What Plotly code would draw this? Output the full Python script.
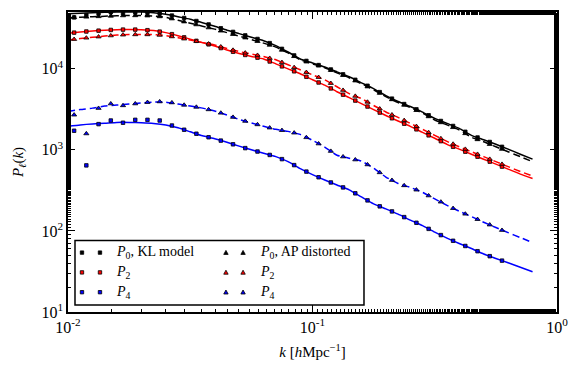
import plotly.graph_objects as go

# ---------------- data ----------------
# model curves: k grid (log10 k from -2.0 to -0.1, step 0.05)
k_line_exp = [-2.00, -1.95, -1.90, -1.85, -1.80, -1.75, -1.70, -1.65, -1.60, -1.55,
              -1.50, -1.45, -1.40, -1.35, -1.30, -1.25, -1.20, -1.15, -1.10, -1.05,
              -1.00, -0.95, -0.90, -0.85, -0.80, -0.75, -0.70, -0.65, -0.60, -0.55,
              -0.50, -0.45, -0.40, -0.35, -0.30, -0.25, -0.20, -0.15, -0.10]
k_line = [10 ** e for e in k_line_exp]

P0_kl_line = [47600, 48300, 49000, 49700, 50000, 50200, 50000, 49000, 47000, 43800,
              40800, 37000, 33500, 29900, 27100, 24500, 22200, 19300, 16100, 13200,
              11800, 10500, 9160, 7960, 6710, 5680, 4660, 3940, 3420, 2920,
              2440, 2120, 1840, 1510, 1330, 1170, 1020, 883, 767]
P0_ap_line = [42600, 43200, 43800, 44400, 45100, 45300, 45300, 44700, 43200, 39600,
              36500, 33500, 30800, 27900, 25300, 22900, 20700, 18500, 15700, 12900,
              11500, 10300, 8910, 7740, 6530, 5520, 4530, 3830, 3320, 2840,
              2330, 2030, 1760, 1430, 1260, 1090, 948, 824, 715]
P2_kl_line = [27500, 28400, 29200, 29900, 30300, 30500, 30300, 29600, 27900, 25600,
              23200, 21000, 19100, 17000, 15400, 14200, 13200, 11500, 9980, 8670,
              7310, 6270, 5210, 4410, 3720, 3140, 2650, 2270, 1950, 1640,
              1390, 1170, 1020, 883, 767, 667, 579, 502, 443]
P2_ap_line = [22600, 23600, 24400, 25300, 26000, 26400, 26500, 26400, 25600, 24200,
              22600, 21000, 19600, 17800, 16300, 15200, 14200, 12900, 11200, 9710,
              8420, 7310, 6000, 4930, 4290, 3520, 2930, 2510, 2120, 1790,
              1510, 1270, 1090, 948, 824, 715, 621, 540, 475]
P4_kl_line = [1950, 2030, 2090, 2130, 2180, 2180, 2160, 2120, 2030, 1870,
              1670, 1490, 1370, 1240, 1110, 1000, 908, 824, 715, 587,
              495, 425, 369, 321, 263, 216, 187, 161, 136, 116,
              96.6, 81.6, 70.0, 60.7, 52.0, 45.8, 40.4, 35.6, 31.3]
P4_ap_line = [2970, 3140, 3270, 3470, 3570, 3670, 3790, 3880, 3880, 3670,
              3470, 3270, 3010, 2690, 2370, 2150, 1950, 1790, 1690, 1550,
              1310, 1080, 859, 789, 725, 596, 462, 385, 344, 299,
              248, 207, 175, 150, 128, 110, 95.3, 82.8, 71.9]

# measured points: log10 k from -1.975 to -0.225, step 0.05
k_pts_exp = [-1.975, -1.925, -1.875, -1.825, -1.775, -1.725, -1.675, -1.625, -1.575,
             -1.525, -1.475, -1.425, -1.375, -1.325, -1.275, -1.225, -1.175, -1.125,
             -1.075, -1.025, -0.975, -0.925, -0.875, -0.825, -0.775, -0.725, -0.675,
             -0.625, -0.575, -0.525, -0.475, -0.425, -0.375, -0.325, -0.275, -0.225]
k_pts = [10 ** e for e in k_pts_exp]

P0_kl_pts = [43000, 46000, 48000, 49800, 48500, 49500, 49000, 48000, 45300, 42300,
             38800, 35200, 31600, 28500, 25800, 23300, 20700, 17600, 14600, 12500,
             11100, 9800, 8540, 7310, 6170, 5150, 4280, 3670, 3160, 2670,
             2270, 1970, 1670, 1420, 1250, 1090]
P0_ap_pts = [42900, 43500, 44100, 44700, 45200, 45300, 45000, 44000, 41400, 38000,
             35000, 32100, 29300, 26600, 24100, 21800, 19600, 17000, 14200, 12200,
             10900, 9580, 8300, 7110, 6000, 5000, 4170, 3570, 3070, 2570,
             2170, 1890, 1590, 1340, 1170, 1020]
P2_kl_pts = [27900, 28800, 29500, 30100, 30400, 30400, 29900, 28700, 26700, 24400,
             22100, 20000, 18000, 16200, 14800, 13700, 12300, 10700, 9300, 7960,
             6770, 5720, 4790, 4050, 3420, 2880, 2450, 2100, 1790, 1510,
             1280, 1090, 949, 823, 715, 621]
P2_ap_pts = [23100, 24000, 24800, 25600, 26200, 26400, 26400, 26000, 24900, 23400,
             21800, 20300, 18700, 17000, 15700, 14700, 13500, 12000, 10400, 9040,
             7850, 6620, 5440, 4600, 3890, 3210, 2710, 2310, 1950, 1640,
             1380, 1180, 1020, 884, 768, 666]
P4_kl_pts = [1720, 643, 2075, 2300, 2160, 2345, 2345, 2300, 1995, 1770,
             1580, 1430, 1300, 1170, 1050, 953, 865, 768, 648, 539,
             459, 396, 344, 291, 238, 201, 174, 148, 126, 106,
             88.8, 75.6, 65.2, 56.2, 48.8, 43.0]
P4_ap_pts = [2700, 1585, 3260, 3710, 3520, 3710, 3860, 3930, 3820, 3570,
             3370, 3140, 2850, 2530, 2260, 2050, 1870, 1740, 1620, 1420,
             1190, 963, 823, 756, 657, 525, 422, 363, 321, 272,
             228, 190, 162, 139, 119, 102]

colors = {"P0": "#000000", "P2": "#ff0000", "P4": "#0000ff"}

x_ticks = [0.01, 0.1, 1]
x_ticktext = ["10<sup>-2</sup>", "10<sup>-1</sup>", "10<sup>0</sup>"]
y_ticks = [10, 100, 1000, 10000]
y_ticktext = ["10<sup>1</sup>", "10<sup>2</sup>", "10<sup>3</sup>", "10<sup>4</sup>"]

legend_left = ["<i>P</i><sub>0</sub>, KL model", "<i>P</i><sub>2</sub>", "<i>P</i><sub>4</sub>"]
legend_right = ["<i>P</i><sub>0</sub>, AP distorted", "<i>P</i><sub>2</sub>", "<i>P</i><sub>4</sub>"]

# ---------------- figure ----------------
fig = go.Figure()
DASH = "7px,4px"

line_sets = [
    (P0_kl_line, "P0", "solid"), (P0_ap_line, "P0", DASH),
    (P2_kl_line, "P2", "solid"), (P2_ap_line, "P2", DASH),
    (P4_kl_line, "P4", "solid"), (P4_ap_line, "P4", DASH),
]
for vals, key, dash in line_sets:
    fig.add_trace(go.Scatter(x=k_line, y=vals, mode="lines", showlegend=False,
                             line=dict(color=colors[key], width=1.5, dash=dash, shape="spline", smoothing=0.5),
                             hoverinfo="skip"))

pt_sets = [
    (P0_kl_pts, "P0", "square"), (P2_kl_pts, "P2", "square"), (P4_kl_pts, "P4", "square"),
    (P0_ap_pts, "P0", "triangle-up"), (P2_ap_pts, "P2", "triangle-up"), (P4_ap_pts, "P4", "triangle-up"),
]
for vals, key, sym in pt_sets:
    fig.add_trace(go.Scatter(x=k_pts, y=vals, mode="markers", showlegend=False,
                             marker=dict(symbol=sym, size=3.5 if sym == "square" else 4.5,
                                         color=colors[key], line=dict(color="#000000", width=0.8))))

# ---- manual legend (two columns, two markers each) ----
fig.add_shape(type="rect", xref="paper", yref="paper", x0=0.0143, x1=0.6053, y0=0.023, y1=0.238,
              line=dict(color="black", width=1.5), fillcolor="white", layer="above")
rows_y = [0.198, 0.132, 0.066]
row_keys = ["P0", "P2", "P4"]
for ry, key, tl, tr in zip(rows_y, row_keys, legend_left, legend_right):
    for mx in (0.0286, 0.0654):
        fig.add_shape(type="rect", xref="paper", yref="paper", xsizemode="pixel", ysizemode="pixel",
                      xanchor=mx, yanchor=ry, x0=-1.7, x1=1.7, y0=-1.7, y1=1.7,
                      fillcolor=colors[key], line=dict(color="black", width=0.8), layer="above")
    for mx in (0.323, 0.358):
        fig.add_shape(type="path", xref="paper", yref="paper", xsizemode="pixel", ysizemode="pixel",
                      xanchor=mx, yanchor=ry, path="M -2.2,-1.8 L 2.2,-1.8 L 0,2.2 Z",
                      fillcolor=colors[key], line=dict(color="black", width=0.8), layer="above")
    fig.add_annotation(xref="paper", yref="paper", x=0.094, y=ry, text=tl, showarrow=False,
                       xanchor="left", yanchor="middle", font=dict(size=14, color="black"))
    fig.add_annotation(xref="paper", yref="paper", x=0.3885, y=ry, text=tr, showarrow=False,
                       xanchor="left", yanchor="middle", font=dict(size=14, color="black"))

axis_common = dict(showline=True, linecolor="black", linewidth=1.5, mirror="allticks",
                   ticks="inside", ticklen=7, tickwidth=1, tickcolor="black",
                   showgrid=False, zeroline=False,
                   minor=dict(ticks="inside", ticklen=3.5, tickwidth=0.8, tickcolor="black", showgrid=False))

fig.update_xaxes(type="log", range=[-2, 0], tickvals=x_ticks, ticktext=x_ticktext,
                 tickfont=dict(size=16), title=dict(text="<i>k</i> [<i>h</i>Mpc<sup>−1</sup>]",
                                                    font=dict(size=15), standoff=12),
                 **axis_common)
fig.update_yaxes(type="log", range=[1, 4.70], tickvals=y_ticks, ticktext=y_ticktext,
                 tickfont=dict(size=16), title=dict(text="<i>P</i><sub><i>ℓ</i></sub>(<i>k</i>)",
                                                    font=dict(size=15), standoff=14),
                 **axis_common)

fig.update_layout(width=581, height=373, margin=dict(l=68, r=24, t=10, b=61),
                  plot_bgcolor="white", paper_bgcolor="white",
                  font=dict(family="Liberation Serif, DejaVu Serif, serif", color="black"),
                  showlegend=False)

fig.write_html("out.html", config={"displayModeBar": False},
               post_script="document.body.style.margin='0';document.body.style.overflow='hidden';")
